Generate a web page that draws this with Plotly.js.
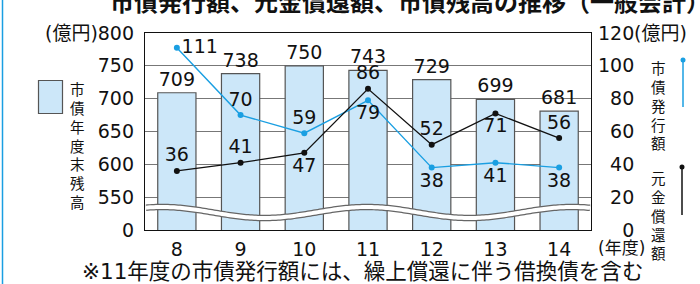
<!DOCTYPE html>
<html><head><meta charset="utf-8">
<script src="https://cdn.plot.ly/plotly-3.0.1.min.js"></script>
<style>body{margin:0;background:#fff}#chart{width:700px;height:284px}</style>
</head><body><div id="chart"></div>
<script>
// ---- data ----
const years = ['8','9','10','11','12','13','14'];
const balance = [709,738,750,743,729,699,681];          // 市債年度末残高
const issuance = [111,70,59,79,38,41,38];                // 市債発行額
const redemption = [36,41,47,86,52,71,56];               // 元金償還額
const leftTickVals = [500,550,600,650,700,750,800];
const leftTickText = ['0','550','600','650','700','750','800'];
const rightTickVals = [0,20,40,60,80,100,120];
const rightTickText = ['\u2007\u20070','\u200720','\u200740','\u200760','\u200780','100','120'];
const issuancePos = ['middle right','top center','top center','bottom center','bottom center','bottom center','bottom center'];
const redemptionPos = ['top center','top center','bottom center','top center','top center','bottom center','top center'];

// ---- style ----
const FONT = 'DejaVu Sans, "Noto Sans CJK JP", sans-serif';
const CJK = '"Noto Sans CJK JP", sans-serif';
const BLUE = '#1a9fe2', BARFILL = '#cce7f9';
const L = 145, R = 591, T = 33, B = 230;
const X = px => (px - L) / (R - L), Y = py => (B - py) / (B - T);

const traces = [
  {type:'bar', x: years, y: balance, marker:{color:BARFILL, line:{color:'#555', width:1.2}},
   text: balance.map(String), textposition:'outside', constraintext:'none',
   textfont:{family:FONT, size:19, color:'#111'}, width:0.6, hoverinfo:'skip'},
  {type:'scatter', mode:'lines+markers+text', x: years, y: issuance, yaxis:'y2',
   line:{color:BLUE, width:1.4}, marker:{color:BLUE, size:6},
   text: issuance.map(String), textposition: issuancePos, cliponaxis:false,
   textfont:{family:FONT, size:19, color:'#111'}},
  {type:'scatter', mode:'lines+markers+text', x: years, y: redemption, yaxis:'y2',
   line:{color:'#111', width:1.3}, marker:{color:'#111', size:6},
   text: redemption.map(String), textposition: redemptionPos, cliponaxis:false,
   textfont:{family:FONT, size:19, color:'#111'}}
];

// wave (axis-break decoration)
let wp = '';
for (let px = 146; px <= 590; px += 2) {
  const py = 212.5 - 5.5 * Math.cos(2 * Math.PI * (px - 367) / 205);
  wp += (px === 146 ? 'M' : 'L') + X(px).toFixed(5) + ',' + Y(py).toFixed(5) + ' ';
}

const shapes = [
  {type:'path', path: wp, xref:'paper', yref:'paper', line:{color:'#666', width:6.5}, layer:'above'},
  {type:'path', path: wp, xref:'paper', yref:'paper', line:{color:'#fff', width:4}, layer:'above'},
  // left blue frame line
  {type:'line', xref:'paper', yref:'paper', x0:X(2.5), x1:X(2.5), y0:Y(0), y1:Y(284), line:{color:BLUE, width:1.5}},
  // left legend box
  {type:'rect', xref:'paper', yref:'paper', x0:X(38.5), x1:X(62.5), y0:Y(80.5), y1:Y(113.5), fillcolor:BARFILL, line:{color:'#555', width:1.2}},
  // right legend lines
  {type:'line', xref:'paper', yref:'paper', x0:X(683), x1:X(683), y0:Y(60), y1:Y(107), line:{color:BLUE, width:1.5}},
  {type:'circle', xref:'paper', yref:'paper', x0:X(680.5), x1:X(685.5), y0:Y(57.5), y1:Y(62.5), fillcolor:BLUE, line:{width:0}},
  {type:'line', xref:'paper', yref:'paper', x0:X(682), x1:X(682), y0:Y(167), y1:Y(215), line:{color:'#111', width:1.5}},
  {type:'circle', xref:'paper', yref:'paper', x0:X(679.5), x1:X(684.5), y0:Y(164.5), y1:Y(169.5), fillcolor:'#111', line:{width:0}}
];

const annotations = [];
function ann(text, px, py, xanchor, size, family, extra) {
  annotations.push(Object.assign({text, xref:'paper', yref:'paper', x:X(px), y:Y(py), xanchor, yanchor:'middle',
    showarrow:false, font:{family: family || FONT, size, color:'#111'}}, extra || {}));
}
function vtext(str, cx, cy, size) {
  ann([...str].join('<br>'), cx, cy, 'center', size, CJK, {borderpad:0});
}
ann('<b>市債発行額、元金償還額、市債残高の推移（一般会計）</b>', 108, 1, 'left', 24, CJK);
ann('(億円)', 100, 33, 'right', 19);
ann('(億円)', 632, 33, 'left', 19);
ann('(年度)', 621, 248, 'center', 17);
ann('※11年度の市債発行額には、繰上償還に伴う借換債を含む', 362, 271, 'center', 21.5);
vtext('市債年度末残高', 77, 145, 14.5);
vtext('市債発行額', 658, 105, 14.5);
vtext('元金償還額', 658, 215, 14.5);

const layout = {
  width:700, height:284, margin:{l:L, r:700-R, t:T, b:284-B},
  paper_bgcolor:'#fff', plot_bgcolor:'#fff', showlegend:false, bargap:0.4,
  font:{family:FONT, size:19, color:'#111'},
  xaxis:{type:'category', showline:true, mirror:true, linecolor:'#111', linewidth:1.2,
    ticks:'', showgrid:false, tickfont:{family:FONT, size:19, color:'#111'}, ticklabelstandoff:2},
  yaxis:{range:[500,800], tickvals:leftTickVals, ticktext:leftTickText, showline:true, linecolor:'#111', linewidth:1.2,
    ticks:'', showgrid:true, gridcolor:'#777', gridwidth:1, zeroline:false,
    tickfont:{family:FONT, size:19, color:'#111'}, ticklabelstandoff:6},
  yaxis2:{overlaying:'y', side:'right', range:[0,120], tickvals:rightTickVals, ticktext:rightTickText,
    showline:true, linecolor:'#111', linewidth:1.2, ticks:'', showgrid:false, zeroline:false,
    tickfont:{family:FONT, size:19, color:'#111'}, ticklabelstandoff:2},
  shapes, annotations
};
Plotly.newPlot('chart', traces, layout, {staticPlot:true, displayModeBar:false});
</script>
</body></html>
